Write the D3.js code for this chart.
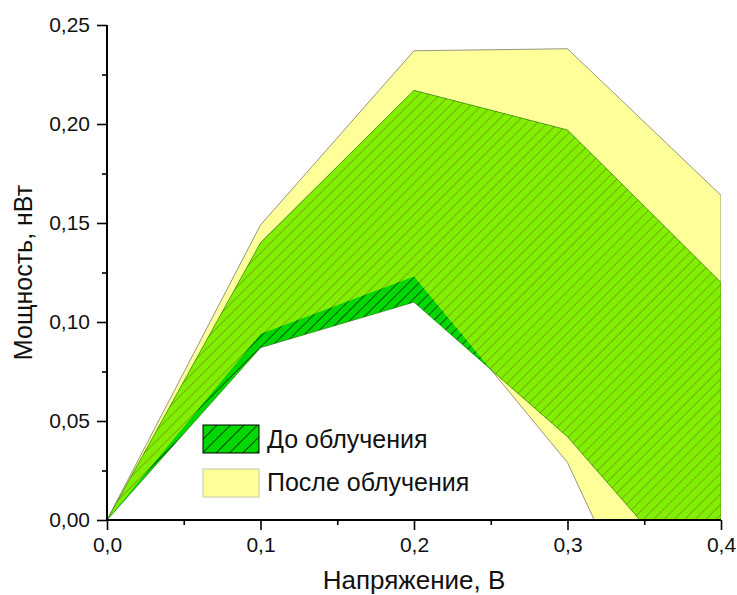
<!DOCTYPE html>
<html>
<head>
<meta charset="utf-8">
<script src="https://cdn.jsdelivr.net/npm/d3@7"></script>
<style>
  body { margin: 0; background: #fff; }
  text { font-family: "Liberation Sans", Arial, sans-serif; fill: #111; }
</style>
</head>
<body>
<svg width="737" height="595"></svg>
<script>
// values
var voltage = [0, 0.1, 0.2, 0.3, 0.4];
var beforeLow = [0, 0.087, 0.110, 0.042, -0.047];
var beforeHigh = [0, 0.140, 0.217, 0.197, 0.120];
var afterLow = [0, 0.094, 0.123, 0.029, -0.137];
var afterHigh = [0, 0.149, 0.237, 0.238, 0.164];

var xTicks = [0, 0.1, 0.2, 0.3, 0.4];
var yTicks = [0, 0.05, 0.10, 0.15, 0.20, 0.25];
var legendLabels = ["До облучения", "После облучения"];

var svg = d3.select("svg"),
    pLeft = 107, pRight = 721, pTop = 25, pBottom = 520;

var ru = d3.formatLocale({decimal: ",", thousands: " ", grouping: [3], currency: ["", ""]});

var x = d3.scaleLinear().domain([0, 0.4]).range([pLeft, pRight]);
var y = d3.scaleLinear().domain([0, 0.25]).range([pBottom, pTop]);

var defs = svg.append("defs");

defs.append("clipPath").attr("id", "plot")
    .append("rect")
    .attr("x", pLeft).attr("y", pTop)
    .attr("width", pRight - pLeft).attr("height", pBottom - pTop);

function hatch(id, bg, line, w, sw) {
    var p = defs.append("pattern")
        .attr("id", id)
        .attr("patternUnits", "userSpaceOnUse")
        .attr("width", w).attr("height", 10)
        .attr("patternTransform", "rotate(45)");
    p.append("rect").attr("width", w).attr("height", 10).attr("fill", bg);
    p.append("line")
        .attr("x1", 0.5).attr("y1", 0).attr("x2", 0.5).attr("y2", 10)
        .attr("stroke", line).attr("stroke-width", sw);
}
hatch("hatchDark", "#00d800", "#0a300a", 7.4, 0.8);
hatch("hatchLime", "#80ef00", "#7a9a18", 7.4, 0.8);
hatch("hatchKey", "#00d800", "#0a300a", 9.5, 0.9);

var rows = voltage.map(function(v, i) {
    return {v: v, bl: beforeLow[i], bh: beforeHigh[i], al: afterLow[i], ah: afterHigh[i]};
});

var afterArea = d3.area()
    .x((d) => x(d.v))
    .y0((d) => y(d.al))
    .y1((d) => y(d.ah));

var beforeArea = d3.area()
    .x((d) => x(d.v))
    .y0((d) => y(d.bl))
    .y1((d) => y(d.bh));

defs.append("clipPath").attr("id", "afterClip")
    .append("path").attr("d", afterArea(rows));

var g = svg.append("g").attr("clip-path", "url(#plot)");

// yellow band
g.append("path")
    .attr("d", afterArea(rows))
    .attr("fill", "#ffff99")
    .attr("stroke", "#8a8a7a")
    .attr("stroke-width", 0.9);

// green band over white
g.append("path")
    .attr("d", beforeArea(rows))
    .attr("fill", "url(#hatchDark)");

// green band where it lies on yellow
g.append("g").attr("clip-path", "url(#afterClip)")
    .append("path")
    .attr("d", beforeArea(rows))
    .attr("fill", "url(#hatchLime)");

g.append("path")
    .attr("d", beforeArea(rows))
    .attr("fill", "none")
    .attr("stroke", "#2f6a10")
    .attr("stroke-width", 0.8)
    .attr("stroke-opacity", 0.7);

// axes
var fy = ru.format(".2f"), fx = ru.format(".1f");

svg.append("g")
    .attr("class", "yaxis")
    .attr("transform", "translate(" + pLeft + ",0)")
    .call(d3.axisLeft(y).tickValues(yTicks).tickSize(10).tickPadding(7).tickFormat(fy));

svg.append("g")
    .attr("transform", "translate(" + pLeft + ",0)")
    .call(d3.axisLeft(y).tickValues(d3.range(0.025, 0.25, 0.05)).tickSize(5).tickFormat(""))
    .select(".domain").remove();

svg.append("g")
    .attr("class", "xaxis")
    .attr("transform", "translate(0," + pBottom + ")")
    .call(d3.axisBottom(x).tickValues(xTicks).tickSize(10).tickPadding(7).tickFormat(fx));

svg.append("g")
    .attr("transform", "translate(0," + pBottom + ")")
    .call(d3.axisBottom(x).tickValues(d3.range(0.05, 0.4, 0.1)).tickSize(5).tickFormat(""))
    .select(".domain").remove();

svg.select(".xaxis .domain").attr("d", "M" + pLeft + ",0H" + pRight);
svg.select(".yaxis .domain").attr("d", "M0," + pBottom + "V" + pTop);
svg.selectAll(".domain").attr("stroke", "#000").attr("stroke-width", 2);
svg.selectAll(".tick line").attr("stroke", "#000").attr("stroke-width", 1.6);
svg.selectAll(".tick text")
    .style("font-family", "'Liberation Sans', Arial, sans-serif")
    .style("font-size", "21px")
    .attr("fill", "#111");

// axis titles
svg.append("text")
    .attr("transform", "translate(32," + (pTop + pBottom) / 2 + ") rotate(-90)")
    .attr("text-anchor", "middle")
    .style("font-size", "25px")
    .text("Мощность, нВт");

svg.append("text")
    .attr("x", (pLeft + pRight) / 2)
    .attr("y", 589)
    .attr("text-anchor", "middle")
    .style("font-size", "26px")
    .text("Напряжение, В");

// legend
var legend = svg.append("g").attr("transform", "translate(203,425)");
var swatches = [
    {fill: "url(#hatchKey)", stroke: "#000"},
    {fill: "#ffff99", stroke: "#c8c8a8"}
];
legendLabels.forEach(function(label, i) {
    legend.append("rect")
        .attr("x", 0).attr("y", i * 44)
        .attr("width", 56).attr("height", 28)
        .attr("fill", swatches[i].fill)
        .attr("stroke", swatches[i].stroke)
        .attr("stroke-width", 1);
    legend.append("text")
        .attr("x", 64).attr("y", i * 43 + 23)
        .style("font-size", "25px")
        .text(label);
});
</script>
</body>
</html>
